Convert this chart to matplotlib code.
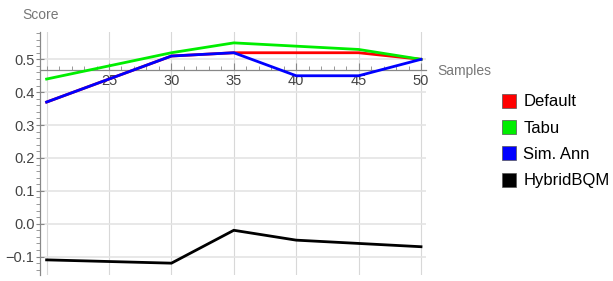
import matplotlib
matplotlib.use("Agg")
import matplotlib.pyplot as plt
from matplotlib.lines import Line2D
from matplotlib.ticker import MultipleLocator

plt.rcParams['font.family'] = ['Liberation Sans', 'DejaVu Sans']

samples = [20, 30, 35, 40, 45, 50]
default = [0.37, 0.51, 0.52, 0.52, 0.52, 0.50]
tabu = [0.44, 0.52, 0.55, 0.54, 0.53, 0.50]
sim_ann = [0.37, 0.51, 0.52, 0.45, 0.45, 0.50]
hybrid = [-0.11, -0.12, -0.02, -0.05, -0.06, -0.07]

names = ["Default", "Tabu", "Sim. Ann", "HybridBQM"]
colors = ["#ff0000", "#00ee00", "#0000ff", "#000000"]
series = [default, tabu, sim_ann, hybrid]

W, H = 613, 281
fig = plt.figure(figsize=(W / 100, H / 100), dpi=100)
ax = fig.add_axes([40 / W, 6 / H, (426 - 40) / W, (275 - 31.7) / H])

x0 = 19.47
ax.set_xlim(x0, 50.4)
ax.set_ylim(-0.156, 0.584)
origin_y = 0.4666

# grid
for gx in [20, 25, 30, 35, 40, 45, 50]:
    ax.axvline(gx, color="#d8d8d8", lw=0.8, zorder=0)
for gy in [-0.1, 0.0, 0.1, 0.2, 0.3, 0.4, 0.5]:
    ax.axhline(gy, color="#e4e4e4", lw=1.2, zorder=0)

for vals, c in zip(series, colors):
    ax.plot(samples, vals, color=c, lw=2, solid_joinstyle="miter", zorder=3)

ax.spines['top'].set_visible(False)
ax.spines['right'].set_visible(False)
ax.spines['left'].set_position(('data', x0))
ax.spines['bottom'].set_position(('data', origin_y))
for s in ['left', 'bottom']:
    ax.spines[s].set_color("#888888")
    ax.spines[s].set_linewidth(0.9)

ax.set_xticks([25, 30, 35, 40, 45, 50])
ax.xaxis.set_minor_locator(MultipleLocator(1))
ax.set_yticks([-0.1, 0.0, 0.1, 0.2, 0.3, 0.4, 0.5])
ax.set_yticklabels(["\u22120.1", "0.0", "0.1", "0.2", "0.3", "0.4", "0.5"])
ax.yaxis.set_minor_locator(MultipleLocator(0.02))

ax.tick_params(axis='x', which='major', direction='in', length=5, color="#888888",
               labelsize=10.5, labelcolor="#444444", pad=3)
ax.tick_params(axis='x', which='minor', direction='in', length=3, color="#888888")
ax.tick_params(axis='y', which='major', direction='inout', length=6, color="#888888",
               labelsize=10.5, labelcolor="#444444", pad=1)
ax.tick_params(axis='y', which='minor', direction='out', length=3, color="#888888")

fig.text(22 / W, 1 - 15 / H, "Score", fontsize=10, color="#777777", va="center", ha="left")
fig.text(437 / W, 1 - 71 / H, "Samples", fontsize=10, color="#777777", va="center", ha="left")

handles = [Line2D([], [], marker='s', ls='none', markersize=10, markerfacecolor=c,
                  markeredgecolor="#555555", markeredgewidth=0.5) for c in colors]
fig.legend(handles, names, loc="upper left", bbox_to_anchor=(494 / W, 1 - 86 / H),
           frameon=False, fontsize=12, handlelength=0.8, handletextpad=0.45,
           labelspacing=0.68, borderpad=0)

fig.savefig("out.png", dpi=100)
